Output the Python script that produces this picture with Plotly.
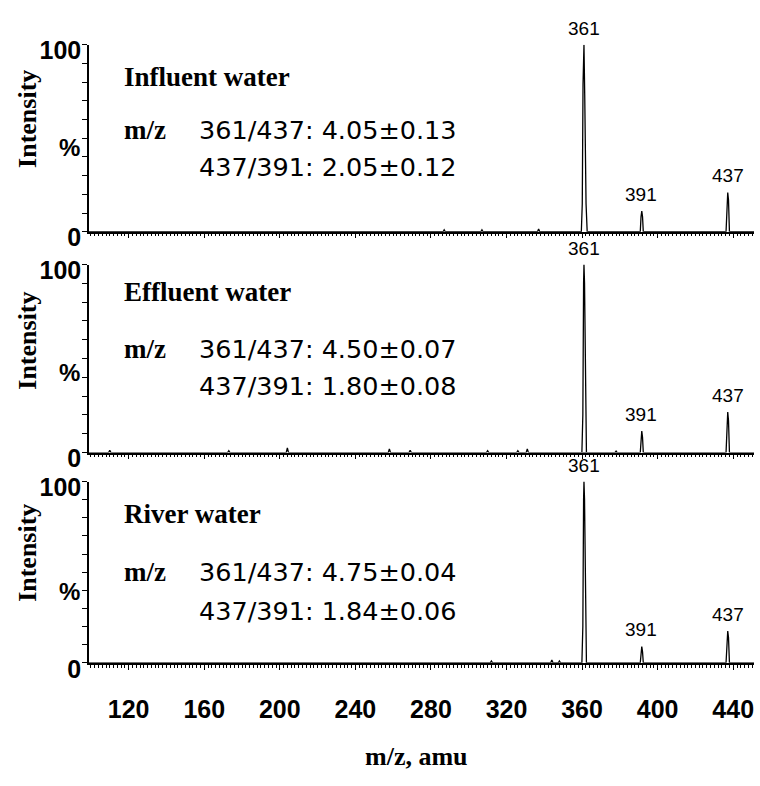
import plotly.graph_objects as go

W, H = 760, 786

# ---- data -------------------------------------------------------------
mz_range = [99, 451]
mz_tick_vals = [120, 160, 200, 240, 280, 320, 360, 400, 440]

panel_names = ["Influent water", "Effluent water", "River water"]
ratio_361_437 = ["4.05±0.13", "4.50±0.07", "4.75±0.04"]
ratio_437_391 = ["2.05±0.12", "1.80±0.08", "1.84±0.06"]

# profile spectra (m/z, relative intensity %)
influent_mz = [99, 286.4, 287.0, 287.6, 306.4, 307.0, 307.6, 336.4, 337.0, 337.6,
               359.6, 360.1, 360.5, 361.0, 361.4, 362.1, 362.7,
               390.8, 391.2, 391.6, 392.0, 392.4,
               436.2, 436.7, 437.1, 437.5, 438.0, 451]
influent_int = [0, 0, 1.0, 0, 0, 1.0, 0, 0, 1.5, 0,
                0, 15, 79, 100, 73, 15, 0,
                0, 8, 11, 8, 0,
                0, 17, 21, 17, 0, 0]

effluent_mz = [99, 109.4, 110.0, 110.6, 172.4, 173.0, 173.6, 203.4, 204.0, 204.6,
               257.4, 258.0, 258.6, 268.4, 269.0, 269.6, 309.4, 310.0, 310.6,
               325.4, 326.0, 326.6, 330.4, 331.0, 331.6, 377.4, 378.0, 378.6,
               359.9, 360.4, 360.8, 361.0, 361.3, 361.8, 362.3,
               390.8, 391.2, 391.6, 392.0, 392.4,
               436.2, 436.7, 437.1, 437.5, 438.0, 451]
effluent_int = [0, 0, 1.2, 0, 0, 1.0, 0, 0, 2.5, 0,
                0, 2.0, 0, 0, 1.2, 0, 0, 1.0, 0,
                0, 1.0, 0, 0, 2.0, 0, 0, 0.8, 0,
                0, 20, 90, 100, 90, 20, 0,
                0, 8, 11.5, 8, 0,
                0, 17, 21.5, 17, 0, 0]

river_mz = [99, 311.4, 312.0, 312.6, 343.4, 344.0, 344.6, 347.4, 348.0, 348.6,
            359.9, 360.4, 360.8, 361.0, 361.3, 361.8, 362.3,
            390.8, 391.2, 391.6, 392.0, 392.4,
            436.2, 436.7, 437.1, 437.5, 438.0, 451]
river_int = [0, 0, 1.0, 0, 0, 1.5, 0, 0, 1.0, 0,
             0, 20, 90, 100, 90, 20, 0,
             0, 6, 9, 6, 0,
             0, 14, 17.5, 14, 0, 0]

peak_mz = [361, 391, 437]
influent_peak_int = [100, 11, 21]
effluent_peak_int = [100, 11.5, 21.5]
river_peak_int = [100, 9, 17.5]

spectra = [(influent_mz, influent_int, influent_peak_int),
           (effluent_mz, effluent_int, effluent_peak_int),
           (river_mz, river_int, river_peak_int)]

# ---- layout geometry (pixels from top) --------------------------------
x_left, x_right = 89, 754
panel_px = [(38, 232), (266, 461), (491, 679)]
name_px = [72, 295, 525]
line1_px = [127, 354, 585]
line2_px = [165, 392, 625]
ylabel_px = [115, 345, 565]
pct_px = [145, 378, 605]


def py(px):
    return 1 - px / H


SERIF = "Liberation Serif, Times New Roman, serif"
SANS = "Liberation Sans, Arial, sans-serif"
NUM = "DejaVu Sans, Verdana, sans-serif"


def note(x, y, text, font, xanchor="center", **kw):
    return dict(x=x / W, y=py(y), xref="paper", yref="paper", text=text,
                showarrow=False, xanchor=xanchor, yanchor="middle",
                font=font, **kw)


fig = go.Figure()
annotations = []
layout_axes = {}

for i, ((mz, inten, pk_int), (top, bot)) in enumerate(zip(spectra, panel_px)):
    n = i + 1
    xa = "x" if n == 1 else f"x{n}"
    ya = "y" if n == 1 else f"y{n}"
    fig.add_trace(go.Scatter(
        x=mz, y=inten, mode="lines", xaxis=xa, yaxis=ya,
        line=dict(color="black", width=1.3), hoverinfo="skip",
        showlegend=False))

    bottom_panel = (n == 3)
    layout_axes["xaxis" if n == 1 else f"xaxis{n}"] = dict(
        domain=[x_left / W, x_right / W], anchor=ya,
        range=mz_range, showgrid=False, zeroline=False,
        showline=True, linecolor="black", linewidth=1.5,
        tickmode="array", tickvals=mz_tick_vals,
        ticks="outside", ticklen=5, tickwidth=1, tickcolor="black",
        showticklabels=bottom_panel,
        ticklabelstandoff=18,
        tickfont=dict(family=SANS, size=25, color="black", weight="bold"),
        minor=dict(dtick=2, tick0=0, ticklen=3, tickwidth=1,
                   tickcolor="black", ticks="outside"),
    )
    layout_axes["yaxis" if n == 1 else f"yaxis{n}"] = dict(
        domain=[py(bot), py(top)], anchor=xa,
        range=[0, 100], showgrid=False, zeroline=False,
        showline=True, linecolor="black", linewidth=1.5,
        tickmode="array", tickvals=list(range(0, 101, 10)),
        ticktext=["0"] + [""] * 9 + ["100"],
        ticks="outside", ticklen=5, tickwidth=1, tickcolor="black",
        ticklabelshift=6, ticklabelstandoff=-4,
        tickfont=dict(family=SANS, size=25, color="black", weight="bold"),
    )

    # peak labels
    for m, v in zip(peak_mz, pk_int):
        annotations.append(dict(
            x=m, y=v, xref=xa, yref=ya, text=str(m), showarrow=False,
            xanchor="center", yanchor="bottom", yshift=4,
            font=dict(family=SANS, size=19, color="black")))

    # sample name and ratio text
    annotations.append(note(122, name_px[i], panel_names[i],
                            dict(family=SERIF, size=27, color="black",
                                 weight="bold"), xanchor="left"))
    annotations.append(note(122, line1_px[i], "m/z",
                            dict(family=SERIF, size=27, color="black",
                                 weight="bold"), xanchor="left"))
    annotations.append(note(197, line1_px[i], f"361/437: {ratio_361_437[i]}",
                            dict(family=NUM, size=25.5, color="black"),
                            xanchor="left"))
    annotations.append(note(197, line2_px[i], f"437/391: {ratio_437_391[i]}",
                            dict(family=NUM, size=25.5, color="black"),
                            xanchor="left"))

    # y-axis title parts
    annotations.append(note(28, ylabel_px[i], "Intensity",
                            dict(family=SERIF, size=26, color="black",
                                 weight="bold"), textangle=-90))
    annotations.append(note(69, pct_px[i], "%",
                            dict(family=SANS, size=24, color="black",
                                 weight="bold")))

annotations.append(note(416, 776, "m/z, amu",
                        dict(family=SERIF, size=26, color="black",
                             weight="bold")))

fig.update_layout(
    width=W, height=H,
    margin=dict(l=0, r=0, t=0, b=0),
    paper_bgcolor="white", plot_bgcolor="white",
    annotations=annotations,
    **layout_axes,
)

fig.write_html("out.html")
